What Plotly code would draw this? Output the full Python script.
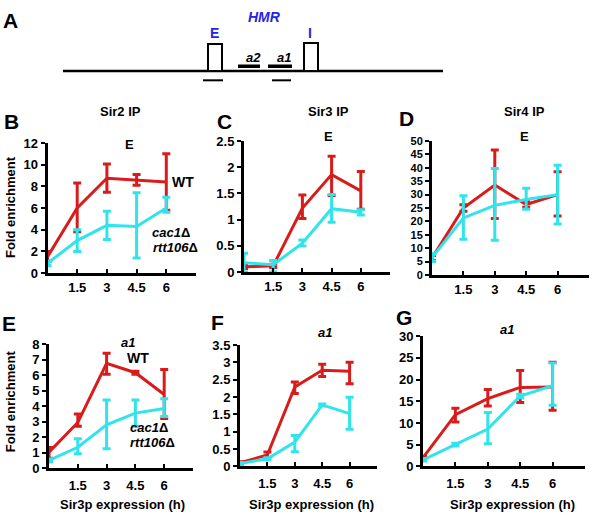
import plotly.graph_objects as go

W, H = 594, 519
FONT = "Liberation Sans, Arial, sans-serif"
RED = "#d81c1c"
CYAN = "#30e4ec"
BLUE = "#2424e6"

# ---- data ----
hours = [0, 1.5, 3, 4.5, 6]
xtick_vals = [1.5, 3, 4.5, 6, 7.5]
xtick_text = ["1.5", "3", "4.5", "6", ""]

# Panel B: Sir2 IP, E
b_wt = [1.5, 6.0, 8.75, 8.6, 8.4]
b_wt_hi = [0.5, 2.3, 1.3, 0.5, 2.6]
b_wt_lo = [0.4, 2.2, 1.3, 0.5, 2.6]
b_mut = [0.9, 3.0, 4.4, 4.3, 6.0]
b_mut_hi = [0.2, 1.0, 1.3, 3.1, 1.0]
b_mut_lo = [0.2, 1.0, 1.3, 2.9, 0.4]

# Panel C: Sir3 IP, E
c_wt = [0.1, 0.12, 1.22, 1.86, 1.55]
c_wt_hi = [0.03, 0.03, 0.25, 0.35, 0.37]
c_wt_lo = [0.03, 0.03, 0.2, 0.4, 0.35]
c_mut = [0.18, 0.14, 0.55, 1.21, 1.14]
c_mut_hi = [0.18, 0.08, 0.06, 0.27, 0.05]
c_mut_lo = [0.18, 0.14, 0.05, 0.26, 0.05]

# Panel D: Sir4 IP, E
d_wt = [6.3, 25.0, 33.6, 26.3, 30.0]
d_wt_hi = [1.0, 1.2, 13.0, 1.0, 8.5]
d_wt_lo = [1.0, 1.2, 12.5, 1.0, 8.0]
d_mut = [6.5, 21.3, 26.0, 28.2, 30.0]
d_mut_hi = [1.5, 8.3, 13.7, 4.2, 11.0]
d_mut_lo = [1.5, 8.0, 13.0, 3.7, 11.0]

# Panel E: Sir2 IP, a1
e_wt = [1.04, 2.95, 6.75, 6.15, 4.75]
e_wt_hi = [0.3, 0.55, 0.65, 0.1, 1.6]
e_wt_lo = [0.4, 0.25, 0.7, 0.1, 1.55]
e_mut = [0.5, 1.35, 2.8, 3.55, 3.85]
e_mut_hi = [0.1, 0.55, 1.6, 0.85, 0.62]
e_mut_lo = [0.1, 0.42, 1.55, 0.85, 0.52]

# Panel F: Sir3 IP, a1
f_wt = [0.1, 0.33, 2.29, 2.77, 2.74]
f_wt_hi = [0.03, 0.08, 0.14, 0.17, 0.26]
f_wt_lo = [0.03, 0.08, 0.19, 0.18, 0.36]
f_mut = [0.08, 0.22, 0.7, 1.77, 1.52]
f_mut_hi = [0.03, 0.03, 0.19, 0.03, 0.47]
f_mut_lo = [0.03, 0.03, 0.28, 0.03, 0.45]

# Panel G: Sir4 IP, a1
g_wt = [2.0, 11.9, 15.6, 18.2, 18.3]
g_wt_hi = [0.3, 1.5, 2.1, 3.9, 5.7]
g_wt_lo = [0.3, 1.7, 1.7, 3.5, 5.4]
g_mut = [1.5, 5.0, 8.6, 16.2, 18.6]
g_mut_hi = [0.3, 0.3, 3.8, 0.4, 5.2]
g_mut_lo = [0.3, 0.3, 3.4, 0.4, 4.5]

# ---- helpers ----
def px(x):
    return x / W

def py(y):
    return 1 - y / H

fig = go.Figure()

# (x domain px), (y bottom px, y top px), ymax, dtick, y tick font size, x label standoff, data
panels = [
    ((47.5, 196), (274, 140), 12, 2, 13, 0, (b_wt, b_wt_hi, b_wt_lo, b_mut, b_mut_hi, b_mut_lo)),
    ((244, 390), (273, 138), 2.5, 0.5, 13, 0, (c_wt, c_wt_hi, c_wt_lo, c_mut, c_mut_hi, c_mut_lo)),
    ((432, 589), (276, 138), 50, 5, 11, 0, (d_wt, d_wt_hi, d_wt_lo, d_mut, d_mut_hi, d_mut_lo)),
    ((49, 193), (475, 347), 8, 1, 13, 3, (e_wt, e_wt_hi, e_wt_lo, e_mut, e_mut_hi, e_mut_lo)),
    ((240, 377), (473, 348), 3.5, 0.5, 13, 3, (f_wt, f_wt_hi, f_wt_lo, f_mut, f_mut_hi, f_mut_lo)),
    ((423, 585), (473, 339), 30, 5, 13, 3, (g_wt, g_wt_hi, g_wt_lo, g_mut, g_mut_hi, g_mut_lo)),
]

layout_axes = {}
for i, ((x0, x1), (yb, yt), ymax, dt, tfs, stand, data) in enumerate(panels, start=1):
    sfx = "" if i == 1 else str(i)
    xa, ya = "x" + sfx, "y" + sfx
    wt, wt_hi, wt_lo, mut, mut_hi, mut_lo = data
    for vals, hi, lo, col in ((wt, wt_hi, wt_lo, RED), (mut, mut_hi, mut_lo, CYAN)):
        fig.add_trace(go.Scatter(
            x=hours, y=vals, mode="lines", xaxis=xa, yaxis=ya,
            line=dict(color=col, width=3), cliponaxis=False, showlegend=False,
            error_y=dict(type="data", symmetric=False, array=hi, arrayminus=lo,
                         color=col, thickness=3, width=4),
        ))
    layout_axes["xaxis" + sfx] = dict(
        domain=[px(x0), px(x1)], range=[0, 7.5], anchor=ya,
        showline=True, linecolor="black", linewidth=3,
        ticks="inside", ticklen=4, tickwidth=2, tickcolor="black",
        tickvals=xtick_vals, ticktext=xtick_text, ticklabelstandoff=stand,
        tickfont=dict(family=FONT, size=13, color="black", weight="bold"),
        showgrid=False, zeroline=False, fixedrange=True,
    )
    layout_axes["yaxis" + sfx] = dict(
        domain=[py(yb), py(yt)], range=[0, ymax], anchor=xa,
        showline=True, linecolor="black", linewidth=3,
        ticks="outside", ticklen=4, tickwidth=2, tickcolor="black",
        dtick=dt, tick0=0,
        tickfont=dict(family=FONT, size=tfs, color="black", weight="bold"),
        showgrid=False, zeroline=False, fixedrange=True,
    )

fig.update_layout(**layout_axes)

ann = []

def text(x, y, s, size=13, color="black", angle=0):
    ann.append(dict(x=px(x), y=py(y), xref="paper", yref="paper", text=s,
                    showarrow=False, xanchor="center", yanchor="middle",
                    textangle=angle,
                    font=dict(family=FONT, size=size, color=color)))

# panel letters
for lt, x, y in (("A", 10, 14), ("B", 11, 118), ("C", 224, 118), ("D", 406, 115),
                 ("E", 9, 326), ("F", 217, 325), ("G", 404, 320)):
    text(x, y, "<b>%s</b>" % lt, size=21)

# titles
text(120, 108, "<b>Sir2 IP</b>", 13)
text(328, 108, "<b>Sir3 IP</b>", 13)
text(524, 108, "<b>Sir4 IP</b>", 13)
text(129, 142, "<b>E</b>", 13)
text(328, 133, "<b>E</b>", 13)
text(524, 133, "<b>E</b>", 13)
text(128, 345, "<b><i>a1</i></b>", 13)
text(325, 335, "<b><i>a1</i></b>", 13)
text(507, 332, "<b><i>a1</i></b>", 13)

# series labels
text(183, 180, "<b>WT</b>", 14)
text(171, 232, "<b><i>cac1</i>Δ</b>", 13)
text(175, 248, "<b><i>rtt106</i>Δ</b>", 13)
text(138, 361, "<b>WT</b>", 14)
text(149, 433, "<b><i>cac1</i>Δ</b>", 13)
text(152, 448, "<b><i>rtt106</i>Δ</b>", 13)

# axis titles
text(10, 206, "<b>Fold enrichment</b>", 13, angle=-90)
text(10, 406, "<b>Fold enrichment</b>", 13, angle=-90)
for cx in (122, 311, 512):
    text(cx, 512, "<b>Sir3p expression (h)</b>", 13)

# panel A diagram labels
text(264, 10, "<b><i>HMR</i></b>", 14, BLUE)
text(214, 27, "<b>E</b>", 14, BLUE)
text(310, 27, "<b>I</b>", 14, BLUE)
text(253, 52, "<b><i>a2</i></b>", 13)
text(284, 52, "<b><i>a1</i></b>", 13)

fig.update_layout(annotations=ann)

shapes = []

def seg(x0, y0, x1, y1, w=2):
    shapes.append(dict(type="line", xref="paper", yref="paper",
                       x0=px(x0), y0=py(y0), x1=px(x1), y1=py(y1),
                       line=dict(color="black", width=w)))

def box(x0, y0, x1, y1):
    shapes.append(dict(type="rect", xref="paper", yref="paper",
                       x0=px(x0), y0=py(y0), x1=px(x1), y1=py(y1),
                       line=dict(color="black", width=2), fillcolor="white"))

seg(63, 66, 443, 66, 2.5)
box(208, 38, 222, 66)
box(304, 37, 318, 66)
seg(203, 75.5, 223, 75.5, 2)
seg(272, 75.5, 291, 75.5, 2)
seg(238, 61, 260, 61, 3.5)
seg(268, 61, 292, 61, 3.5)

fig.update_layout(shapes=shapes)

fig.update_layout(width=W, height=H, margin=dict(l=0, r=0, t=0, b=0),
                  paper_bgcolor="white", plot_bgcolor="white",
                  font=dict(family=FONT, color="black"), showlegend=False)

fig.write_html("out.html", config={"displayModeBar": False},
               post_script="document.body.style.margin='0';document.body.style.overflow='hidden';")
